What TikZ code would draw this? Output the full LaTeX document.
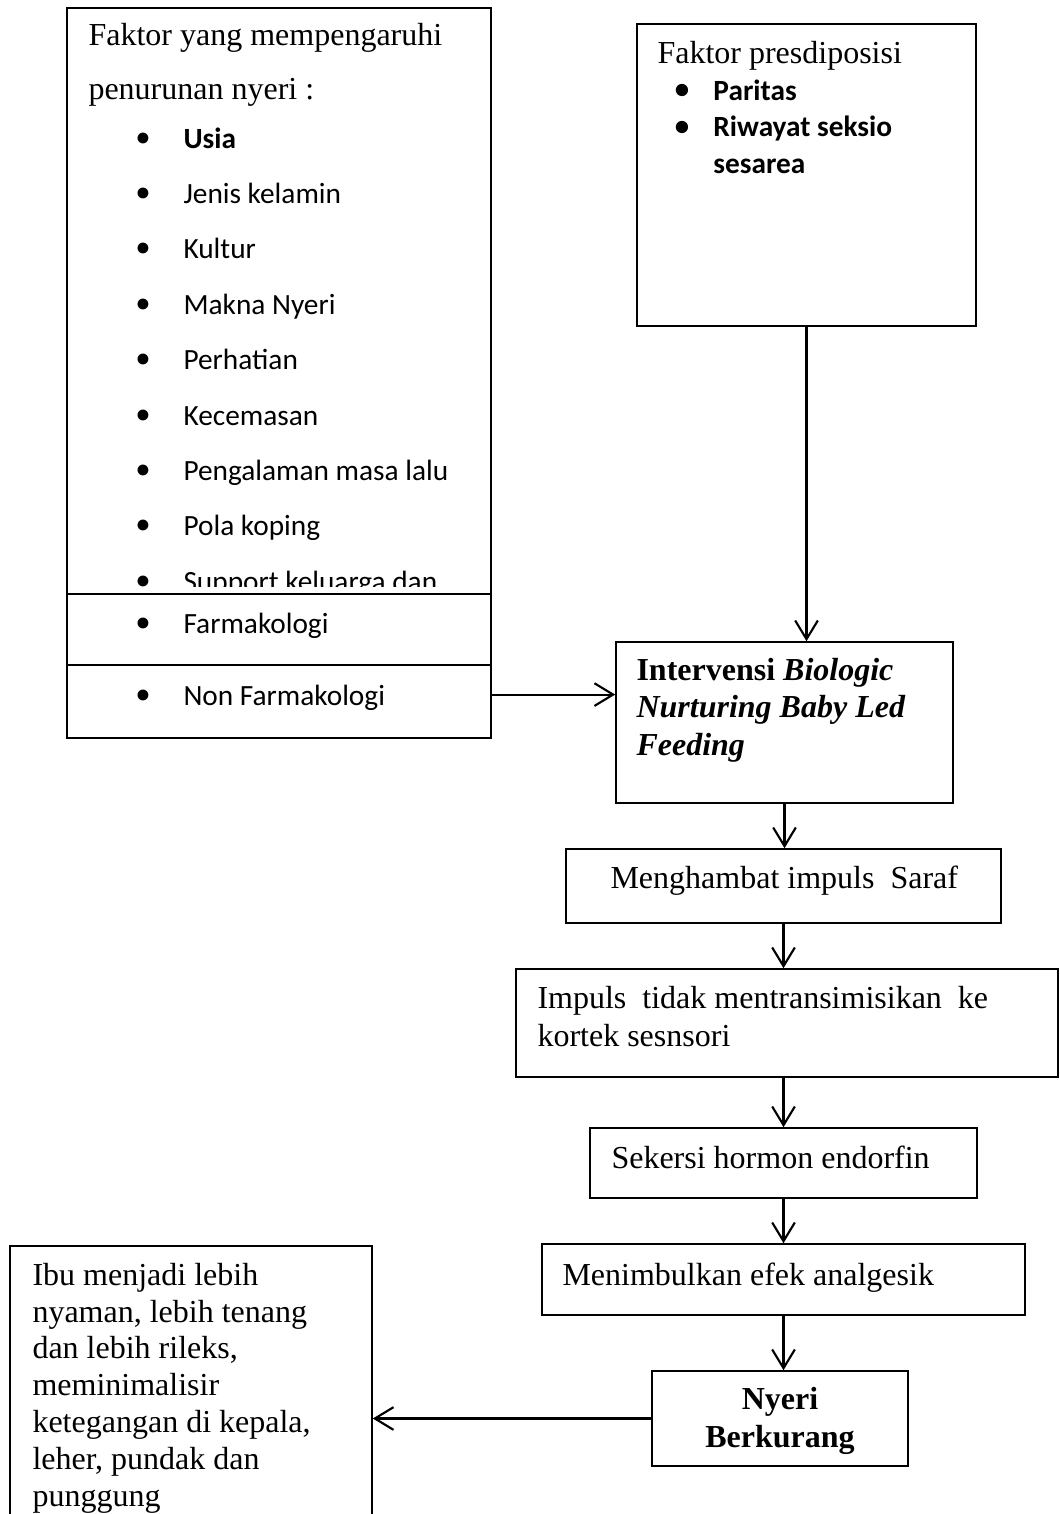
\documentclass[tikz,border=0pt]{standalone}
\usepackage{fontspec}
\setmainfont{Liberation Serif}
\newfontfamily\calibri{Carlito}
\usetikzlibrary{arrows.meta, positioning, fit}

% bullet followed by its text
\newcommand{\blt}[2][18pt]{\makebox[#1][l]{\smash{\raisebox{-1.9pt}{\rmfamily\fontsize{17pt}{17pt}\selectfont\textbullet}}}#2}

\begin{document}
\begin{tikzpicture}[
  x=0.375pt, y=-0.375pt,
  box/.style   = {draw, line width=0.6pt, inner sep=0pt},
  txt/.style   = {anchor=base west, inner sep=0pt, align=left,
                  font=\fontsize{12pt}{13.8pt}\selectfont},
  item/.style  = {anchor=base west, inner sep=0pt, align=left,
                  font=\calibri\fontsize{11pt}{13.7pt}\selectfont},
  arrow/.style = {line width=0.8pt, -{Straight Barb[length=7pt, width=8.5pt, line width=0.8pt]}}
]
\clip (0,0) rectangle (1060,1514);

%--------------------------------------------------
% Boxes
%--------------------------------------------------
\node[box, fit={(67,8) (491,594)}] (faktor) {};
\node[box, fit={(67,594) (491,665)}] (farmakologi) {};
\node[box, fit={(67,665) (491,738)}] (nonfarmakologi) {};
\node[box, fit={(637,24) (976,326)}] (predisposisi) {};
\node[box, fit={(616,642) (953,803)}] (intervensi) {};
\node[box, fit={(566,849) (1001,923)}] (hambat) {};
\node[box, fit={(516,969) (1058,1077)}] (impuls) {};
\node[box, fit={(590,1128) (977,1198)}] (endorfin) {};
\node[box, fit={(542,1244) (1025,1315)}] (analgesik) {};
\node[box, fit={(652,1371) (908,1466)}] (nyeri) {};
\node[box, fit={(10,1246) (372,1540)}] (ibu) {};

%--------------------------------------------------
% Left column: factors
% (multi-line texts sit on the baseline of their last line)
%--------------------------------------------------
\node[txt, font=\fontsize{12pt}{20.25pt}\selectfont] (t_faktor) at (88,99)
  {Faktor yang mempengaruhi\\penurunan nyeri :};

\begin{scope}
  \clip (67,8) rectangle (491,586);
  \node[item] (t_usia) at (135,148) {\blt{\bfseries Usia}};
  \node[item] (t_kelamin) at (135,203.4) {\blt{Jenis kelamin}};
  \node[item] (t_kultur) at (135,258.8) {\blt{Kultur}};
  \node[item] (t_makna) at (135,314.2) {\blt{Makna Nyeri}};
  \node[item] (t_perhatian) at (135,369.6) {\blt{Perhatian}};
  \node[item] (t_cemas) at (135,425) {\blt{Kecemasan}};
  \node[item] (t_pengalaman) at (135,480.4) {\blt{Pengalaman masa lalu}};
  \node[item] (t_koping) at (135,535.8) {\blt{Pola koping}};
  \node[item] (t_support) at (135,591.2) {\blt{Support keluarga dan}};
\end{scope}

\node[item] (t_farmakologi) at (135,633) {\blt{Farmakologi}};
\node[item] (t_nonfarmakologi) at (135,705) {\blt{Non Farmakologi}};

%--------------------------------------------------
% Right column
%--------------------------------------------------
\node[txt] (t_predisposisi) at (657,63) {Faktor presdiposisi};
\node[item, font=\calibri\bfseries\fontsize{11pt}{13.7pt}\selectfont] (t_paritas) at (674,100)
  {\blt[14.6pt]{Paritas}};
\node[item, font=\calibri\bfseries\fontsize{11pt}{13.7pt}\selectfont] (t_riwayat) at (674,173.5)
  {\blt[14.6pt]{Riwayat seksio}\\\hspace*{14.6pt}sesarea};

\node[txt, font=\bfseries\fontsize{12pt}{13.9pt}\selectfont] (t_intervensi) at (636,755)
  {Intervensi \textit{Biologic}\\\textit{Nurturing Baby Led}\\\textit{Feeding}};

\node[txt] (t_hambat) at (610,888) {Menghambat impuls\ \ Saraf};
\node[txt, font=\fontsize{12pt}{14.2pt}\selectfont] (t_impuls) at (537,1046)
  {Impuls\ \ tidak mentransimisikan\ \ ke\\kortek sesnsori};
\node[txt] (t_endorfin) at (611,1168) {Sekersi hormon endorfin};
\node[txt] (t_analgesik) at (562,1285) {Menimbulkan efek analgesik};
\node[txt, anchor=base, align=center, font=\bfseries\fontsize{12pt}{13.9pt}\selectfont]
  (t_nyeri) at (780,1447) {Nyeri\\Berkurang};

\node[txt] (t_ibu) at (32,1506)
  {Ibu menjadi lebih\\nyaman, lebih tenang\\dan lebih rileks,\\meminimalisir\\ketegangan di kepala,\\leher, pundak dan\\punggung};

%--------------------------------------------------
% Connections
%--------------------------------------------------
\draw[arrow] (predisposisi.south) -- (predisposisi.south |- intervensi.north);
\draw[arrow] ([yshift=2.6pt]nonfarmakologi.east) -- ([yshift=2.6pt]nonfarmakologi.east -| intervensi.west);
\draw[arrow] (intervensi.south) -- (intervensi.south |- hambat.north);
\draw[arrow] (hambat.south) -- (hambat.south |- impuls.north);
\draw[arrow] (impuls.south -| hambat.south) -- (hambat.south |- endorfin.north);
\draw[arrow] (endorfin.south) -- (endorfin.south |- analgesik.north);
\draw[arrow] (analgesik.south) -- (analgesik.south |- nyeri.north);
\draw[arrow] (nyeri.west) -- (nyeri.west -| ibu.east);

\end{tikzpicture}
\end{document}
